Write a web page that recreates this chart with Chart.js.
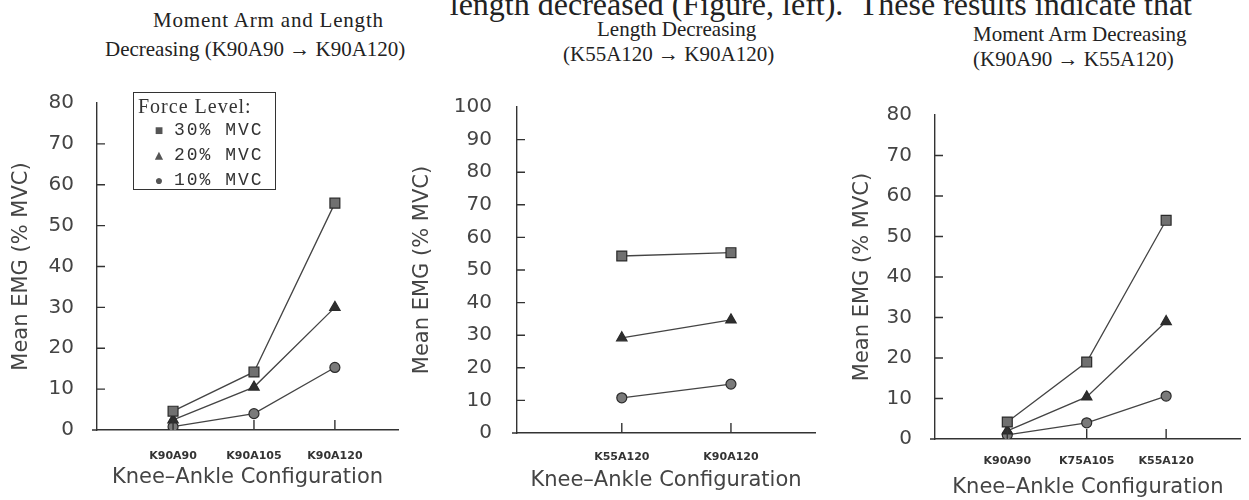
<!DOCTYPE html>
<html>
<head>
<meta charset="utf-8">
<script src="https://cdn.jsdelivr.net/npm/chart.js"></script>
<style>
  body { margin: 0; background: #fff; width: 1249px; height: 500px; overflow: hidden; position: relative; }
  .txt { position: absolute; font-family: "Liberation Serif", "Times New Roman", serif; color: #222; white-space: nowrap; }
  .ttl { font-size: 21px; line-height: 21px; }
  .panel { position: absolute; }
  #legend { position: absolute; left: 133px; top: 92px; width: 141px; height: 96px; border: 1.5px solid #333;
            font-family: "Liberation Mono", monospace; color: #333; }
  #legend .head { position: absolute; left: 4px; top: 2px; font-size: 17px; letter-spacing: 0.3px; font-family: "Liberation Serif", serif; font-size: 20px; letter-spacing: 1px; }
  #legend .row { position: absolute; left: 16px; font-size: 18px; letter-spacing: 2px; }
  #legend .mk { display: inline-block; width: 20px; text-align: center; color: #555; font-size: 14px; margin-right: 4px; }
</style>
</head>
<body>
<div class="txt" style="right:57px; top:-12px; font-size:32px; line-height:32px;">length decreased (Figure, left).&nbsp; These results indicate that</div>

<div class="txt ttl" style="left:153px; top:10px; letter-spacing:0.8px;">Moment Arm and Length</div>
<div class="txt ttl" style="left:105px; top:39px;">Decreasing (K90A90 &#x2192; K90A120)</div>
<div class="txt ttl" style="left:597px; top:19px;">Length Decreasing</div>
<div class="txt ttl" style="left:563px; top:44px;">(K55A120 &#x2192; K90A120)</div>
<div class="txt ttl" style="left:973px; top:24px;">Moment Arm Decreasing</div>
<div class="txt ttl" style="left:973px; top:49px;">(K90A90 &#x2192; K55A120)</div>

<div class="panel" style="left:0px; top:60px;"><canvas id="left" width="412" height="440"></canvas></div>
<div class="panel" style="left:405px; top:60px;"><canvas id="middle" width="420" height="440"></canvas></div>
<div class="panel" style="left:840px; top:60px;"><canvas id="right" width="409" height="440"></canvas></div>

<div id="legend"></div>

<script>
// knee-ankle configurations on each panel
const catsLeft = ['K90A90', 'K90A105', 'K90A120'];
const catsMiddle = ['K55A120', 'K90A120'];
const catsRight = ['K90A90', 'K75A105', 'K55A120'];

// mean EMG (% MVC) per force level
const left30 = [4.6, 14.2, 55.5];
const left20 = [2.5, 10.5, 30];
const left10 = [0.8, 4, 15.3];

const middle30 = [54.3, 55.3];
const middle20 = [29.2, 34.7];
const middle10 = [10.8, 15];

const right30 = [4.2, 19, 54];
const right20 = [2, 10.4, 29];
const right10 = [1, 4, 10.6];

const seriesNames = ['30% MVC', '20% MVC', '10% MVC'];
const legendTitle = 'Force Level:';
const xTitle = 'Knee\u2013Ankle Configuration';
const yTitle = 'Mean EMG (% MVC)';

const markerStyles = ['rect', 'triangle', 'circle'];
const markerSizes = [7, 6, 5];
const markerFills = ['#707070', '#2e2e2e', '#7a7a7a'];
const axisColor = '#333';

// tick marks point into the plot, x axis line runs a little past the y axis
const inwardTicks = {
  id: 'inwardTicks',
  afterDraw(chart) {
    const { ctx, chartArea, scales: { x, y } } = chart;
    ctx.save();
    ctx.strokeStyle = axisColor;
    ctx.lineWidth = 1.4;
    ctx.beginPath();
    y.ticks.forEach(t => {
      if (t.value === y.min || t.value === y.max) return;
      const py = y.getPixelForValue(t.value);
      ctx.moveTo(chartArea.left, py);
      ctx.lineTo(chartArea.left + 8, py);
    });
    x.ticks.forEach(t => {
      const px = x.getPixelForValue(t.value);
      ctx.moveTo(px, chartArea.bottom);
      ctx.lineTo(px, chartArea.bottom - 10);
    });
    ctx.moveTo(chartArea.left - 5, chartArea.bottom);
    ctx.lineTo(chartArea.left, chartArea.bottom);
    ctx.stroke();
    ctx.restore();
  }
};

function makeChart(id, cats, s30, s20, s10, o) {
  const series = [s30, s20, s10];
  return new Chart(document.getElementById(id), {
    type: 'line',
    data: {
      datasets: series.map((vals, k) => ({
        label: seriesNames[k],
        data: vals.map((v, i) => ({ x: i + 1, y: v })),
        borderColor: '#444',
        borderWidth: 1.3,
        pointStyle: markerStyles[k],
        pointRadius: markerSizes[k],
        pointBackgroundColor: markerFills[k],
        pointBorderColor: '#2a2a2a',
        pointBorderWidth: 1.2,
        tension: 0
      }))
    },
    options: {
      responsive: false,
      animation: false,
      layout: { padding: o.pad },
      plugins: { legend: { display: false }, tooltip: { enabled: false } },
      scales: {
        x: {
          type: 'linear',
          min: o.xmin,
          max: o.xmax,
          afterBuildTicks: s => { s.ticks = cats.map((c, i) => ({ value: i + 1 })); },
          afterFit: s => { s.height = o.xh; },
          ticks: {
            callback: v => cats[v - 1],
            font: { family: 'DejaVu Sans', size: 11, weight: 'bold' },
            color: '#333',
            padding: o.xtp,
            maxRotation: 0,
            autoSkip: false
          },
          grid: { display: false },
          border: { color: axisColor, width: 1.4 },
          title: {
            display: true, text: xTitle, color: '#444',
            font: { family: 'DejaVu Sans', size: 21 },
            padding: { top: 0, bottom: 0 }
          }
        },
        y: {
          min: 0,
          max: o.ymax,
          afterFit: s => { s.width = o.yw; },
          ticks: {
            stepSize: 10,
            padding: o.ytp,
            font: { family: 'DejaVu Sans', size: 20 },
            color: '#444'
          },
          grid: { display: false },
          border: { color: axisColor, width: 1.4 },
          title: {
            display: true, text: yTitle, color: '#444',
            font: { family: 'DejaVu Sans', size: 21 },
            padding: { top: o.ytitle, bottom: 0 }
          }
        }
      }
    },
    plugins: [inwardTicks]
  });
}

makeChart('left', catsLeft, left30, left20, left10, {
  pad: { left: 0, right: 14, top: 43, bottom: 10 },
  xmin: 0.06, xmax: 3.78, xh: 60, xtp: 12,
  ymax: 80, yw: 97, ytp: 15, ytitle: 9
});

makeChart('middle', catsMiddle, middle30, middle20, middle10, {
  pad: { left: 0, right: 10, top: 47, bottom: 7 },
  xmin: 0.04, xmax: 2.77, xh: 60, xtp: 10,
  ymax: 100, yw: 112, ytp: 17, ytitle: 5
});

makeChart('right', catsRight, right30, right20, right10, {
  pad: { left: 0, right: 0, top: 55, bottom: 0 },
  xmin: 0.09, xmax: 3.94, xh: 61, xtp: 8,
  ymax: 80, yw: 95, ytp: 15, ytitle: 10
});

// legend box for the left panel
const glyphs = ['\u25A0', '\u25B2', '\u25CF'];
const legend = document.getElementById('legend');
let html = '<div class="head">' + legendTitle + '</div>';
seriesNames.forEach((name, k) => {
  html += '<div class="row" style="top:' + (27 + k * 25) + 'px"><span class="mk">' + glyphs[k] + '</span>' + name + '</div>';
});
legend.innerHTML = html;
</script>
</body>
</html>
